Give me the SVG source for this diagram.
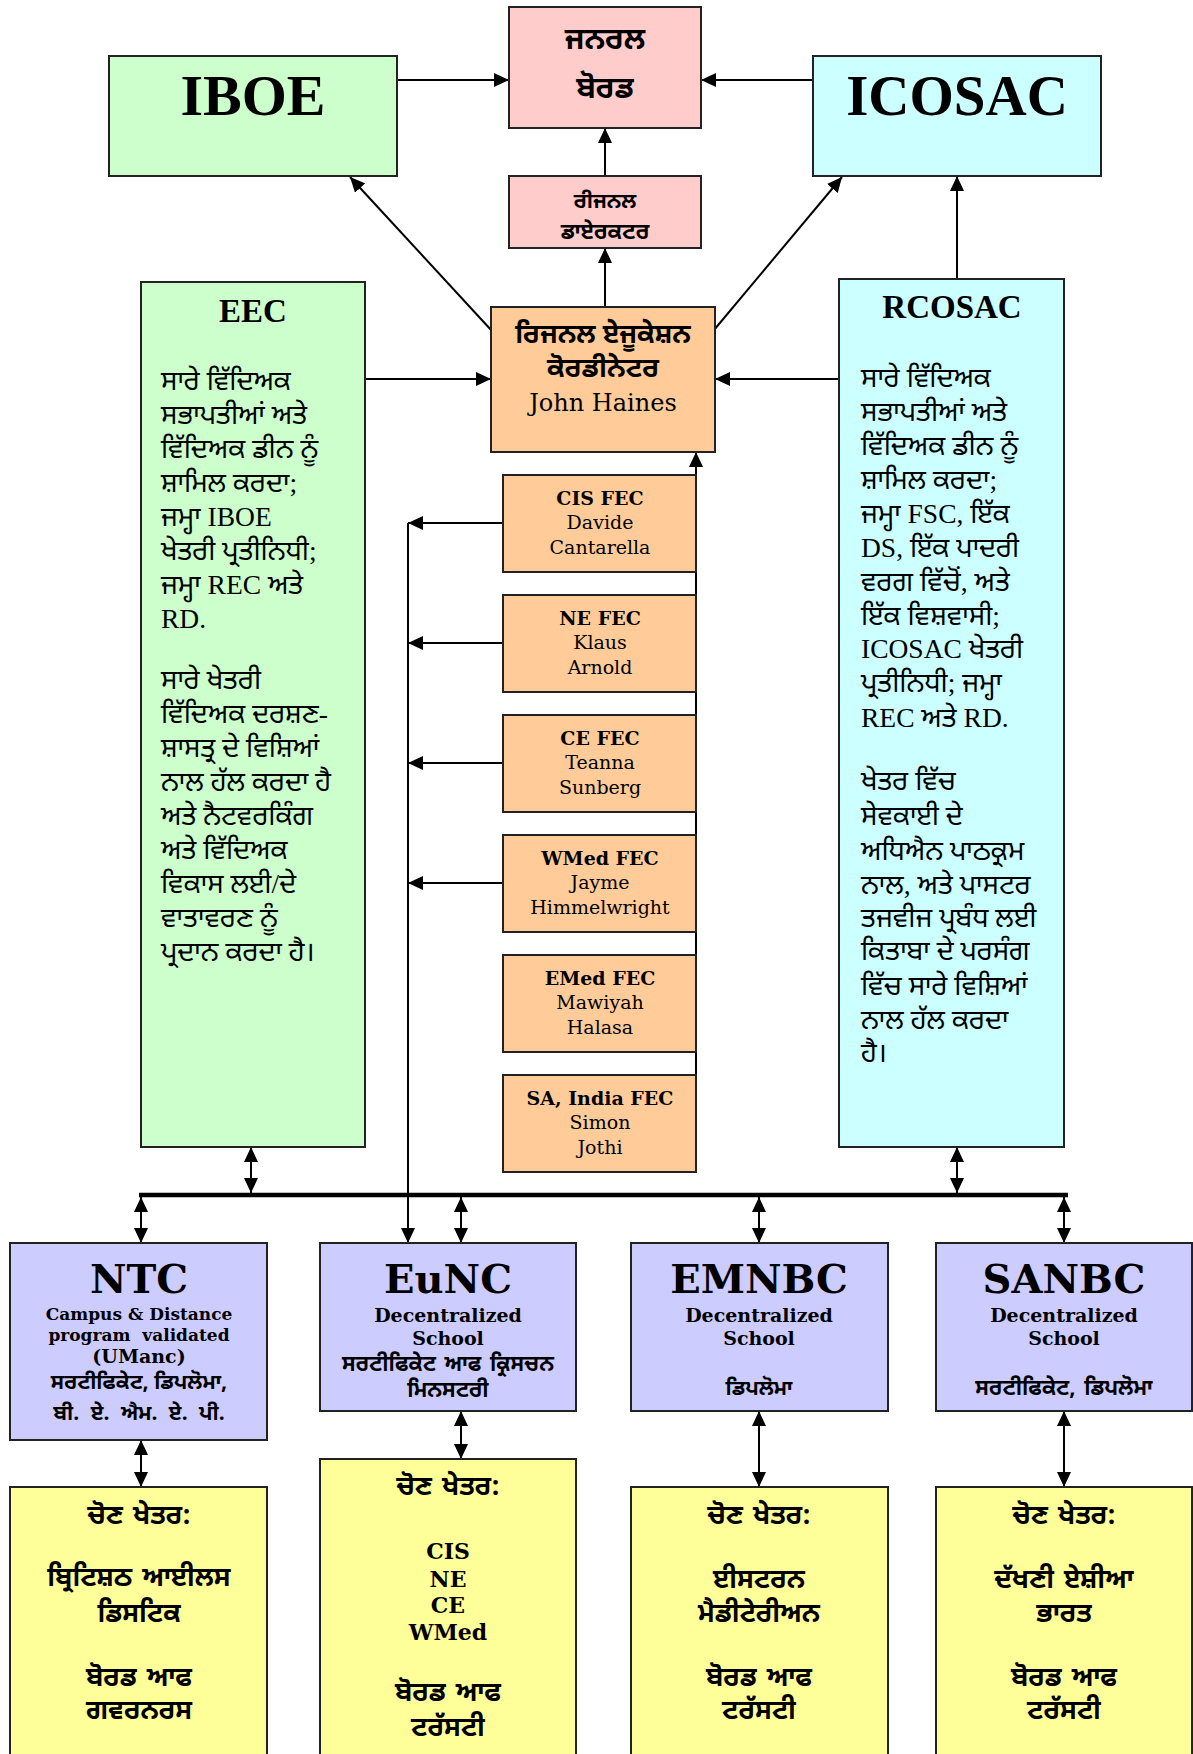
<svg xmlns="http://www.w3.org/2000/svg" width="1193" height="1754" viewBox="0 0 1193 1754">
<defs>
<style>
.box{stroke:#222;stroke-width:2}
.pink{fill:#FFCCCC}.green{fill:#CCFFCC}.cyan{fill:#CCFFFF}.orange{fill:#FFCC99}.blue{fill:#CCCCFF}.yellow{fill:#FFFF99}
.ln{stroke:#000;stroke-width:2;fill:none}
.bus{stroke:#000;stroke-width:4.5;fill:none}
.t{text-anchor:middle;fill:#000}
.tb{font-family:"Liberation Serif","Times New Roman",serif;font-weight:bold}
.cs{font-family:"DejaVu Serif",serif}
.csb{font-family:"DejaVu Serif",serif;font-weight:bold}
.gb{font-family:"Noto Sans Gurmukhi","Lohit Gurmukhi","Noto Sans","DejaVu Sans",sans-serif;font-weight:bold}
.ws{word-spacing:3px}
.body{font-family:"Liberation Serif","Noto Sans Gurmukhi","Lohit Gurmukhi",serif;font-size:27.5px;fill:#000}
.fec{font-size:19px}
.yl{font-size:26.5px}
</style>
<marker id="ah" viewBox="0 0 15 14" refX="15" refY="7" markerWidth="15" markerHeight="14" markerUnits="userSpaceOnUse" orient="auto-start-reverse">
<path d="M0,0 L15,7 L0,14 z" fill="#000"/>
</marker>
</defs>
<rect width="1193" height="1754" fill="#fff"/>

<g id="connectors">
<line class="ln" x1="397" y1="80" x2="509" y2="80" marker-end="url(#ah)"/>
<line class="ln" x1="813" y1="80" x2="701" y2="80" marker-end="url(#ah)"/>
<line class="ln" x1="605" y1="176" x2="605" y2="128" marker-end="url(#ah)"/>
<line class="ln" x1="605" y1="307" x2="605" y2="248" marker-end="url(#ah)"/>
<line class="ln" x1="492" y1="331" x2="350" y2="177" marker-end="url(#ah)"/>
<line class="ln" x1="714" y1="330" x2="842" y2="177" marker-end="url(#ah)"/>
<line class="ln" x1="365" y1="379" x2="491" y2="379" marker-end="url(#ah)"/>
<line class="ln" x1="839" y1="379" x2="715" y2="379" marker-end="url(#ah)"/>
<line class="ln" x1="957" y1="279" x2="957" y2="176" marker-end="url(#ah)"/>
<line class="ln" x1="696" y1="1172" x2="696" y2="452" marker-end="url(#ah)"/>
<line class="ln" x1="503" y1="523" x2="408" y2="523" marker-end="url(#ah)"/>
<line class="ln" x1="503" y1="643" x2="408" y2="643" marker-end="url(#ah)"/>
<line class="ln" x1="503" y1="763" x2="408" y2="763" marker-end="url(#ah)"/>
<line class="ln" x1="503" y1="883" x2="408" y2="883" marker-end="url(#ah)"/>
<line class="ln" x1="408" y1="523" x2="408" y2="1243" marker-end="url(#ah)"/>
<line class="bus" x1="139" y1="1195" x2="1068" y2="1195"/>
<line class="ln" x1="251" y1="1147" x2="251" y2="1193" marker-start="url(#ah)" marker-end="url(#ah)"/>
<line class="ln" x1="957" y1="1147" x2="957" y2="1193" marker-start="url(#ah)" marker-end="url(#ah)"/>
<line class="ln" x1="141" y1="1197" x2="141" y2="1243" marker-start="url(#ah)" marker-end="url(#ah)"/>
<line class="ln" x1="461" y1="1197" x2="461" y2="1243" marker-start="url(#ah)" marker-end="url(#ah)"/>
<line class="ln" x1="759" y1="1197" x2="759" y2="1243" marker-start="url(#ah)" marker-end="url(#ah)"/>
<line class="ln" x1="1064" y1="1197" x2="1064" y2="1243" marker-start="url(#ah)" marker-end="url(#ah)"/>
<line class="ln" x1="141" y1="1440" x2="141" y2="1487" marker-start="url(#ah)" marker-end="url(#ah)"/>
<line class="ln" x1="461" y1="1411" x2="461" y2="1459" marker-start="url(#ah)" marker-end="url(#ah)"/>
<line class="ln" x1="759" y1="1411" x2="759" y2="1487" marker-start="url(#ah)" marker-end="url(#ah)"/>
<line class="ln" x1="1064" y1="1411" x2="1064" y2="1487" marker-start="url(#ah)" marker-end="url(#ah)"/>
</g>

<g id="general-board">
<rect class="box pink" x="509" y="7" width="192" height="121"/>
<text class="t gb" x="605" y="49" font-size="30">ਜਨਰਲ</text>
<text class="t gb" x="605" y="98" font-size="30">ਬੋਰਡ</text>
</g>

<g id="iboe">
<rect class="box green" x="109" y="56" width="288" height="120"/>
<text class="t tb" x="253" y="115" font-size="58">IBOE</text>
</g>

<g id="icosac">
<rect class="box cyan" x="813" y="56" width="288" height="120"/>
<text class="t tb" x="957" y="115" font-size="57">ICOSAC</text>
</g>

<g id="regional-director">
<rect class="box pink" x="509" y="176" width="192" height="72"/>
<text class="t gb" x="605" y="208" font-size="21">ਰੀਜਨਲ</text>
<text class="t gb" x="605" y="239" font-size="22">ਡਾਏਰਕਟਰ</text>
</g>

<g id="rec">
<rect class="box orange" x="491" y="307" width="224" height="145"/>
<text class="t gb" x="603" y="343" font-size="27">ਰਿਜਨਲ ਏਜੂਕੇਸ਼ਨ</text>
<text class="t gb" x="603" y="377" font-size="27">ਕੋਰਡੀਨੇਟਰ</text>
<text class="t cs" x="603" y="411" font-size="24">John Haines</text>
</g>

<g id="eec">
<rect class="box green" x="141" y="282" width="224" height="865"/>
<text class="t tb" x="253" y="322" font-size="33">EEC</text>
<text class="body" x="161" y="390">ਸਾਰੇ ਵਿੱਦਿਅਕ</text>
<text class="body" x="161" y="424">ਸਭਾਪਤੀਆਂ ਅਤੇ</text>
<text class="body" x="161" y="458">ਵਿੱਦਿਅਕ ਡੀਨ ਨੂੰ</text>
<text class="body" x="161" y="492">ਸ਼ਾਮਿਲ ਕਰਦਾ;</text>
<text class="body" x="161" y="526">ਜਮ੍ਹਾ IBOE</text>
<text class="body" x="161" y="560">ਖੇਤਰੀ ਪ੍ਰਤੀਨਿਧੀ;</text>
<text class="body" x="161" y="594">ਜਮ੍ਹਾ REC ਅਤੇ</text>
<text class="body" x="161" y="628">RD.</text>
<text class="body" x="161" y="689">ਸਾਰੇ ਖੇਤਰੀ</text>
<text class="body" x="161" y="723">ਵਿੱਦਿਅਕ ਦਰਸ਼ਣ-</text>
<text class="body" x="161" y="757">ਸ਼ਾਸਤ੍ਰ ਦੇ ਵਿਸ਼ਿਆਂ</text>
<text class="body" x="161" y="791">ਨਾਲ ਹੱਲ ਕਰਦਾ ਹੈ</text>
<text class="body" x="161" y="825">ਅਤੇ ਨੈਟਵਰਕਿੰਗ</text>
<text class="body" x="161" y="859">ਅਤੇ ਵਿੱਦਿਅਕ</text>
<text class="body" x="161" y="893">ਵਿਕਾਸ ਲਈ/ਦੇ</text>
<text class="body" x="161" y="927">ਵਾਤਾਵਰਣ ਨੂੰ</text>
<text class="body" x="161" y="961">ਪ੍ਰਦਾਨ ਕਰਦਾ ਹੈ।</text>
</g>

<g id="rcosac">
<rect class="box cyan" x="839" y="279" width="225" height="868"/>
<text class="t tb" x="952" y="318" font-size="33">RCOSAC</text>
<text class="body" x="861" y="387">ਸਾਰੇ ਵਿੱਦਿਅਕ</text>
<text class="body" x="861" y="421">ਸਭਾਪਤੀਆਂ ਅਤੇ</text>
<text class="body" x="861" y="455">ਵਿੱਦਿਅਕ ਡੀਨ ਨੂੰ</text>
<text class="body" x="861" y="489">ਸ਼ਾਮਿਲ ਕਰਦਾ;</text>
<text class="body" x="861" y="523">ਜਮ੍ਹਾ FSC, ਇੱਕ</text>
<text class="body" x="861" y="557">DS, ਇੱਕ ਪਾਦਰੀ</text>
<text class="body" x="861" y="591">ਵਰਗ ਵਿੱਚੋਂ, ਅਤੇ</text>
<text class="body" x="861" y="625">ਇੱਕ ਵਿਸ਼ਵਾਸੀ;</text>
<text class="body" x="861" y="658">ICOSAC ਖੇਤਰੀ</text>
<text class="body" x="861" y="692">ਪ੍ਰਤੀਨਿਧੀ; ਜਮ੍ਹਾ</text>
<text class="body" x="861" y="727">REC ਅਤੇ RD.</text>
<text class="body" x="861" y="790">ਖੇਤਰ ਵਿੱਚ</text>
<text class="body" x="861" y="825">ਸੇਵਕਾਈ ਦੇ</text>
<text class="body" x="861" y="860">ਅਧਿਐਨ ਪਾਠਕ੍ਰਮ</text>
<text class="body" x="861" y="894">ਨਾਲ, ਅਤੇ ਪਾਸਟਰ</text>
<text class="body" x="861" y="927">ਤਜਵੀਜ ਪ੍ਰਬੰਧ ਲਈ</text>
<text class="body" x="861" y="960">ਕਿਤਾਬਾ ਦੇ ਪਰਸੰਗ</text>
<text class="body" x="861" y="995">ਵਿੱਚ ਸਾਰੇ ਵਿਸ਼ਿਆਂ</text>
<text class="body" x="861" y="1029">ਨਾਲ ਹੱਲ ਕਰਦਾ</text>
<text class="body" x="861" y="1062">ਹੈ।</text>
</g>

<g id="fec-cis">
<rect class="box orange" x="503" y="475" width="193" height="97"/>
<text class="t csb fec" x="600" y="505">CIS FEC</text>
<text class="t cs fec" x="600" y="529">Davide</text>
<text class="t cs fec" x="600" y="554">Cantarella</text>
</g>
<g id="fec-ne">
<rect class="box orange" x="503" y="595" width="193" height="97"/>
<text class="t csb fec" x="600" y="625">NE FEC</text>
<text class="t cs fec" x="600" y="649">Klaus</text>
<text class="t cs fec" x="600" y="674">Arnold</text>
</g>
<g id="fec-ce">
<rect class="box orange" x="503" y="715" width="193" height="97"/>
<text class="t csb fec" x="600" y="745">CE FEC</text>
<text class="t cs fec" x="600" y="769">Teanna</text>
<text class="t cs fec" x="600" y="794">Sunberg</text>
</g>
<g id="fec-wmed">
<rect class="box orange" x="503" y="835" width="193" height="97"/>
<text class="t csb fec" x="600" y="865">WMed FEC</text>
<text class="t cs fec" x="600" y="889">Jayme</text>
<text class="t cs fec" x="600" y="914">Himmelwright</text>
</g>
<g id="fec-emed">
<rect class="box orange" x="503" y="955" width="193" height="97"/>
<text class="t csb fec" x="600" y="985">EMed FEC</text>
<text class="t cs fec" x="600" y="1009">Mawiyah</text>
<text class="t cs fec" x="600" y="1034">Halasa</text>
</g>
<g id="fec-sa">
<rect class="box orange" x="503" y="1075" width="193" height="97"/>
<text class="t csb fec" x="600" y="1105">SA, India FEC</text>
<text class="t cs fec" x="600" y="1129">Simon</text>
<text class="t cs fec" x="600" y="1154">Jothi</text>
</g>

<g id="ntc">
<rect class="box blue" x="10" y="1243" width="257" height="197"/>
<text class="t csb" x="139" y="1293" font-size="40">NTC</text>
<text class="t csb" x="139" y="1320" font-size="17">Campus &amp; Distance</text>
<text class="t csb" x="139" y="1341" font-size="17">program&#160; validated</text>
<text class="t csb" x="139" y="1363" font-size="19">(UManc)</text>
<text class="t gb" x="139" y="1389" font-size="21">ਸਰਟੀਫਿਕੇਟ, ਡਿਪਲੋਮਾ,</text>
<text class="t gb" x="139" y="1420" font-size="21" word-spacing="6">ਬੀ. ਏ. ਐਮ. ਏ. ਪੀ.</text>
</g>

<g id="eunc">
<rect class="box blue" x="320" y="1243" width="256" height="168"/>
<text class="t csb" x="448" y="1293" font-size="40">EuNC</text>
<text class="t csb" x="448" y="1322" font-size="19">Decentralized</text>
<text class="t csb" x="448" y="1345" font-size="19">School</text>
<text class="t gb ws" x="448" y="1371" font-size="21.5">ਸਰਟੀਫਿਕੇਟ ਆਫ ਕ੍ਰਿਸਚਨ</text>
<text class="t gb" x="448" y="1397" font-size="21.5">ਮਿਨਸਟਰੀ</text>
</g>

<g id="emnbc">
<rect class="box blue" x="631" y="1243" width="257" height="168"/>
<text class="t csb" x="759" y="1293" font-size="40">EMNBC</text>
<text class="t csb" x="759" y="1322" font-size="19">Decentralized</text>
<text class="t csb" x="759" y="1345" font-size="19">School</text>
<text class="t gb" x="759" y="1395" font-size="21">ਡਿਪਲੋਮਾ</text>
</g>

<g id="sanbc">
<rect class="box blue" x="936" y="1243" width="256" height="168"/>
<text class="t csb" x="1064" y="1293" font-size="40">SANBC</text>
<text class="t csb" x="1064" y="1322" font-size="19">Decentralized</text>
<text class="t csb" x="1064" y="1345" font-size="19">School</text>
<text class="t gb ws" x="1064" y="1395" font-size="21.5">ਸਰਟੀਫਿਕੇਟ, ਡਿਪਲੋਮਾ</text>
</g>

<g id="ntc-area">
<rect class="box yellow" x="10" y="1487" width="257" height="280"/>
<text class="t gb yl ws" x="139" y="1524">ਚੋਣ ਖੇਤਰ:</text>
<text class="t gb yl ws" x="139" y="1586">ਬ੍ਰਿਟਿਸ਼ਠ ਆਈਲਸ</text>
<text class="t gb yl" x="139" y="1622">ਡਿਸਟਿਕ</text>
<text class="t gb yl ws" x="139" y="1686">ਬੋਰਡ ਆਫ</text>
<text class="t gb yl" x="139" y="1719">ਗਵਰਨਰਸ</text>
</g>

<g id="eunc-area">
<rect class="box yellow" x="320" y="1459" width="256" height="310"/>
<text class="t gb yl ws" x="448" y="1495">ਚੋਣ ਖੇਤਰ:</text>
<text class="t csb" x="448" y="1559" font-size="22">CIS</text>
<text class="t csb" x="448" y="1587" font-size="22">NE</text>
<text class="t csb" x="448" y="1613" font-size="22">CE</text>
<text class="t csb" x="448" y="1640" font-size="22">WMed</text>
<text class="t gb yl ws" x="448" y="1701">ਬੋਰਡ ਆਫ</text>
<text class="t gb yl" x="448" y="1736">ਟਰੱਸਟੀ</text>
</g>

<g id="emnbc-area">
<rect class="box yellow" x="631" y="1487" width="257" height="280"/>
<text class="t gb yl ws" x="759" y="1524">ਚੋਣ ਖੇਤਰ:</text>
<text class="t gb yl" x="759" y="1588">ਈਸਟਰਨ</text>
<text class="t gb yl" x="759" y="1622">ਮੈਡੀਟੇਰੀਅਨ</text>
<text class="t gb yl ws" x="759" y="1686">ਬੋਰਡ ਆਫ</text>
<text class="t gb yl" x="759" y="1719">ਟਰੱਸਟੀ</text>
</g>

<g id="sanbc-area">
<rect class="box yellow" x="936" y="1487" width="256" height="280"/>
<text class="t gb yl ws" x="1064" y="1524">ਚੋਣ ਖੇਤਰ:</text>
<text class="t gb yl ws" x="1064" y="1588">ਦੱਖਣੀ ਏਸ਼ੀਆ</text>
<text class="t gb yl" x="1064" y="1622">ਭਾਰਤ</text>
<text class="t gb yl ws" x="1064" y="1686">ਬੋਰਡ ਆਫ</text>
<text class="t gb yl" x="1064" y="1719">ਟਰੱਸਟੀ</text>
</g>
</svg>
